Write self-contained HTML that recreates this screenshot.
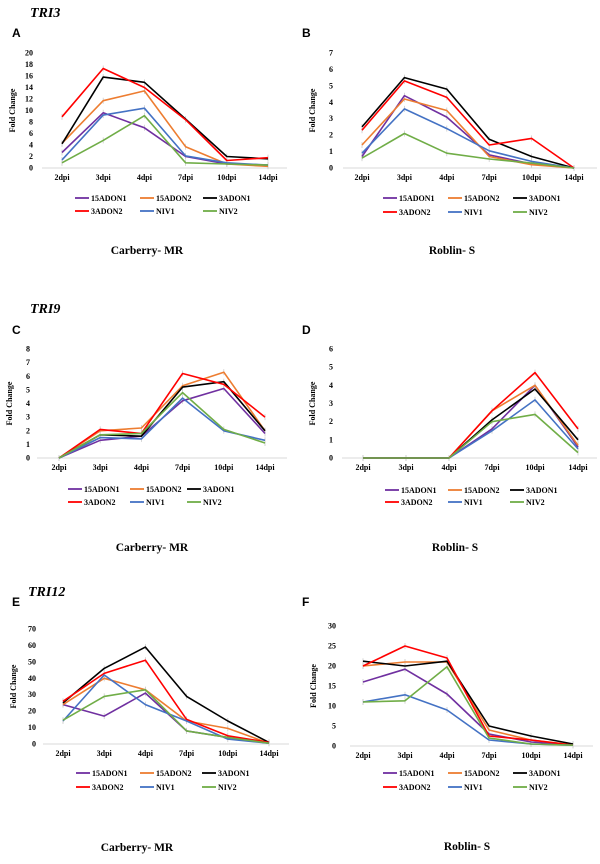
<!DOCTYPE html>
<html><head><meta charset="utf-8"><style>
html,body{margin:0;padding:0;background:#fff;}
svg{display:block;font-family:"Liberation Serif",serif;}
</style></head><body>
<svg id="fig" width="600" height="864" viewBox="0 0 600 864" xmlns="http://www.w3.org/2000/svg">
<text x="30" y="17" font-family="Liberation Serif,serif" font-style="italic" font-weight="bold" font-size="14">TRI3</text>
<text x="30" y="313" font-style="italic" font-weight="bold" font-size="14">TRI9</text>
<text x="28" y="596" font-style="italic" font-weight="bold" font-size="14">TRI12</text>
</svg>
<script>
const categories=["2dpi","3dpi","4dpi","7dpi","10dpi","14dpi"];
const seriesNames=["15ADON1","15ADON2","3ADON1","3ADON2","NIV1","NIV2"];
const seriesColors=["#7030a0","#ed7d31","#000000","#ff0000","#4472c4","#70ad47"];
const ticksA=[0,2,4,6,8,10,12,14,16,18,20];
const ticksB=[0,1,2,3,4,5,6,7];
const ticksC=[0,1,2,3,4,5,6,7,8];
const ticksD=[0,1,2,3,4,5,6];
const ticksE=[0,10,20,30,40,50,60,70];
const ticksF=[0,5,10,15,20,25,30];
const dataA=[[2.7,9.6,7.0,2.0,0.7,0.5],[4.3,11.7,13.4,3.7,0.7,0.3],[4.2,15.8,14.9,8.5,2.0,1.6],[8.9,17.3,14.0,8.4,1.3,1.8],[1.4,9.2,10.4,2.1,0.9,0.5],[0.9,4.8,9.1,0.9,0.7,0.5]];
const dataB=[[0.7,4.4,3.1,0.8,0.25,0],[1.4,4.2,3.5,0.7,0.2,0],[2.5,5.5,4.8,1.75,0.7,0],[2.3,5.3,4.3,1.4,1.8,0],[0.9,3.6,2.4,1.05,0.4,0],[0.6,2.1,0.9,0.55,0.3,0]];
const dataC=[[0,1.3,1.6,4.2,5.1,1.8],[0,2.0,2.2,5.3,6.3,2.0],[0,1.7,1.6,5.2,5.6,2.0],[0,2.1,1.8,6.2,5.4,3.0],[0,1.5,1.4,4.4,2.0,1.3],[0,1.7,1.8,4.8,2.1,1.1]];
const dataD=[[0,0,0,1.6,4.0,0.6],[0,0,0,2.6,4.0,0.7],[0,0,0,2.1,3.8,1.0],[0,0,0,2.6,4.7,1.6],[0,0,0,1.5,3.2,0.5],[0,0,0,2.0,2.4,0.3]];
const dataE=[[24,17,31,8,4,0.5],[24,40,33,14,9.5,0.5],[25,46,59,29,14,1],[26,43,51,15,5,1],[14,42,24,14,3,0.5],[14.5,29,33,8,4,0.5]];
const dataF=[[16,19.2,13,3,1,0.3],[20,21,21,4,1.5,0.3],[21.2,20,21.2,5,2.5,0.5],[20,25,22,2.5,1.5,0.2],[11,12.8,9,1.5,0.5,0.2],[11,11.3,19.8,2,0.5,0.2]];

const panels=[
 {id:"a",letter:"A",lx:12,ly:37,data:dataA,ticks:ticksA,y0:168,y1:53,c0:62,c1:268,ax0:42,ax1:287,tx:33,fx:15,leg:[75,140,203],ly1:198,ly2:211,sub:"Carberry- MR",sx:147,sy:254},
 {id:"b",letter:"B",lx:302,ly:37,data:dataB,ticks:ticksB,y0:168,y1:53,c0:362,c1:574,ax0:343,ax1:597,tx:333,fx:315,leg:[383,448,513],ly1:198,ly2:212,sub:"Roblin- S",sx:452,sy:254},
 {id:"c",letter:"C",lx:12,ly:334,data:dataC,ticks:ticksC,y0:458,y1:349,c0:59,c1:265,ax0:37,ax1:287,tx:30,fx:12,leg:[68,130,187],ly1:489,ly2:502,sub:"Carberry- MR",sx:152,sy:551},
 {id:"d",letter:"D",lx:302,ly:334,data:dataD,ticks:ticksD,y0:458,y1:349,c0:363,c1:578,ax0:342,ax1:597,tx:333,fx:315,leg:[385,448,510],ly1:490,ly2:502,sub:"Roblin- S",sx:455,sy:551},
 {id:"e",letter:"E",lx:12,ly:606,data:dataE,ticks:ticksE,y0:744,y1:629,c0:63,c1:269,ax0:43,ax1:289,tx:36,fx:16,leg:[76,140,202],ly1:773,ly2:787,sub:"Carberry- MR",sx:137,sy:851},
 {id:"f",letter:"F",lx:302,ly:606,data:dataF,ticks:ticksF,y0:746,y1:626,c0:363,c1:573,ax0:350,ax1:593,tx:336,fx:316,leg:[383,448,513],ly1:773,ly2:787,sub:"Roblin- S",sx:467,sy:850}
];
const NS="http://www.w3.org/2000/svg";
const svg=document.getElementById("fig");
function mk(tag,attrs,parent){const e=document.createElementNS(NS,tag);for(const k in attrs)e.setAttribute(k,attrs[k]);(parent||svg).appendChild(e);return e;}
panels.forEach(p=>{
 const g=mk("g",{});
 
 
 const maxT=p.ticks[p.ticks.length-1];
 const yS=v=>p.y0-(v/maxT)*(p.y0-p.y1);
 const xS=i=>p.c0+i*(p.c1-p.c0)/(categories.length-1);
 const L=mk("text",{x:p.lx,y:p.ly,"font-family":"Liberation Sans,sans-serif","font-weight":"bold","font-size":"12"},g);L.textContent=p.letter;
 
 
 const ax=mk("line",{x1:p.ax0,x2:p.ax1,y1:p.y0,y2:p.y0,stroke:"#d9d9d9","stroke-width":"1"},g);
 
 
 p.ticks.forEach(t=>{const e=mk("text",{x:p.tx,y:yS(t)+2.5,"text-anchor":"end","font-weight":"bold","font-size":"8"},g);e.textContent=t;
  
  });
 categories.forEach((c,i)=>{const e=mk("text",{x:xS(i),y:p.y0+12,"text-anchor":"middle","font-weight":"bold","font-size":"8"},g);e.textContent=c;
  
  });
 const ym=(p.y0+p.y1)/2;
 const yt=mk("text",{x:p.fx,y:ym,"text-anchor":"middle","font-weight":"bold","font-size":"8",transform:`rotate(-90 ${p.fx} ${ym})`},g);yt.textContent="Fold Change";
 
 
 p.data.forEach((vals,s)=>{
  vals.forEach((v,i)=>{const eb=mk("line",{x1:xS(i),x2:xS(i),y1:yS(v)-3,y2:yS(v)+3,stroke:"#cccccc","stroke-width":"0.8"},g);
   
   });
 });
 p.data.forEach((vals,s)=>{
  const pts=vals.map((v,i)=>xS(i).toFixed(1)+","+yS(v).toFixed(1)).join(" ");
  const pl=mk("polyline",{points:pts,fill:"none",stroke:seriesColors[s],"stroke-width":"1.6","stroke-linejoin":"round"},g);
  
  
 });
 seriesNames.forEach((n,s)=>{
  const col=s%3,row=Math.floor(s/3);
  const x=p.leg[col],y=row?p.ly2:p.ly1;
  const lg=mk("g",{},g);
  
  
  mk("line",{x1:x,x2:x+14,y1:y,y2:y,stroke:seriesColors[s],"stroke-width":"1.8"},lg);
  const t=mk("text",{x:x+16,y:y+2.8,"font-weight":"bold","font-size":"8"},lg);t.textContent=n;
 });
 const st=mk("text",{x:p.sx,y:p.sy,"text-anchor":"middle","font-weight":"bold","font-size":"11.5"},g);st.textContent=p.sub;
 
 
});
</script>
</body></html>
